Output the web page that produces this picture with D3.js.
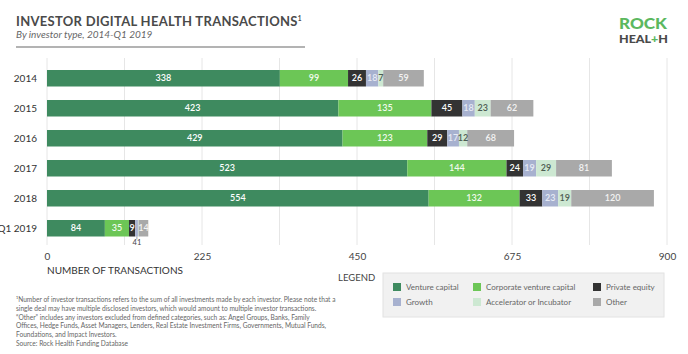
<!DOCTYPE html>
<html>
<head>
<meta charset="utf-8">
<script src="https://cdn.jsdelivr.net/npm/d3@7"></script>
<style>
  body { margin: 0; background: #fff; }
  text { font-family: Lato, "Open Sans", sans-serif; }
</style>
</head>
<body>
<div id="chart"></div>
<script>
// ---------------------------------------------------------------
//   data
// ---------------------------------------------------------------
const years = ["2014", "2015", "2016", "2017", "2018", "Q1 2019"];
const investorTypes = ["Venture capital", "Corporate venture capital", "Private equity",
                       "Growth", "Accelerator or Incubator", "Other"];
const ventureCapital   = [338, 423, 429, 523, 554, 84];
const corporateVC      = [99, 135, 123, 144, 132, 35];
const privateEquity    = [26, 45, 29, 24, 33, 9];
const growth           = [18, 18, 17, 19, 23, 4];
const accelerator      = [7, 23, 12, 29, 19, 1];
const other            = [59, 62, 68, 81, 120, 14];
const xTicks = [0, 225, 450, 675, 900];

const footnote = [
  "\u00B9Number of investor transactions refers to the sum of all investments made by each investor. Please note that a",
  "single deal may have multiple disclosed investors, which would amount to multiple investor transactions.",
  "\u201COther\u201D includes any investors excluded from defined categories, such as: Angel Groups, Banks, Family",
  "Offices, Hedge Funds, Asset Managers, Lenders, Real Estate Investment Firms, Governments, Mutual Funds,",
  "Foundations, and Impact Investors.",
  "Source: Rock Health Funding Database"
];

// ---------------------------------------------------------------
//   sizes / styles
// ---------------------------------------------------------------
const WIDTH = 688, HEIGHT = 354;
const X0 = 47, X1 = 667;
const Y0 = 63.25, Y1 = 243.25;
const COLORS = ["#3e8a5f", "#6cc656", "#333333", "#a7b1cf", "#cde8d2", "#a9a9a9"];
const LABEL_COLORS = ["#ffffff", "#f2fbef", "#ffffff", "#e6eaf5", "#4d5d52", "#f3f3f3"];

const series = [ventureCapital, corporateVC, privateEquity, growth, accelerator, other];
const table = years.map((y, i) => {
  const row = { year: y };
  investorTypes.forEach((t, k) => row[t] = series[k][i]);
  return row;
});

const svg = d3.select("#chart").append("svg")
  .attr("width", WIDTH)
  .attr("height", HEIGHT);

const x = d3.scaleLinear().domain([0, 900]).range([X0, X1]);
const y = d3.scaleBand().domain(years).range([Y0, Y1])
  .paddingInner(0.45).paddingOuter(0.225);

// title block
svg.append("text")
  .attr("x", 16).attr("y", 26)
  .attr("fill", "#4a4a4a")
  .style("font-size", "13px").style("font-weight", 700)
  .style("letter-spacing", "0.3px")
  .text("INVESTOR DIGITAL HEALTH TRANSACTIONS")
  .append("tspan")
  .attr("dy", -5).style("font-size", "6.5px")
  .text("1");

svg.append("text")
  .attr("x", 16).attr("y", 38)
  .attr("fill", "#666")
  .style("font-size", "10px").style("font-style", "italic")
  .text("By investor type, 2014-Q1 2019");

svg.append("line")
  .attr("x1", 16).attr("x2", 305)
  .attr("y1", 47).attr("y2", 47)
  .attr("stroke", "#9a9a9a").attr("stroke-width", 1.5);

// logo
svg.append("text")
  .attr("x", 619).attr("y", 29)
  .attr("fill", "#5cb860")
  .attr("textLength", 48).attr("lengthAdjust", "spacingAndGlyphs")
  .style("font-size", "15px").style("font-weight", 900)
  .text("ROCK");

const health = svg.append("text")
  .attr("x", 619).attr("y", 43)
  .attr("fill", "#4a4a4a")
  .attr("textLength", 49).attr("lengthAdjust", "spacingAndGlyphs")
  .style("font-size", "12px").style("font-weight", 900);
health.append("tspan").text("HEAL");
health.append("tspan").attr("fill", "#5cb860").text("+");
health.append("tspan").text("H");

// grid lines, every half tick
svg.append("g")
  .attr("id", "grid")
  .selectAll("line")
  .data(d3.range(0, 901, 112.5))
  .join("line")
  .attr("x1", d => x(d)).attr("x2", d => x(d))
  .attr("y1", 58).attr("y2", 245)
  .attr("stroke", "#e6e6e6")
  .attr("stroke-width", 1);

// x axis labels
const xAxis = svg.append("g")
  .attr("transform", "translate(0,246)")
  .call(d3.axisBottom(x).tickValues(xTicks).tickSize(0).tickPadding(7));
xAxis.select(".domain").remove();
xAxis.selectAll("text")
  .style("font-family", "Lato, sans-serif")
  .style("font-size", "10px")
  .attr("fill", "#444");

svg.append("text")
  .attr("x", X0).attr("y", 274)
  .attr("fill", "#333")
  .style("font-size", "10px")
  .text("NUMBER OF TRANSACTIONS");

// year labels
svg.append("g")
  .selectAll("text")
  .data(years)
  .join("text")
  .attr("x", 37)
  .attr("y", d => y(d) + y.bandwidth() / 2 + 3.5)
  .attr("text-anchor", "end")
  .attr("fill", "#333")
  .style("font-size", "10px")
  .text(d => d);

// stacked bars
const stacked = d3.stack().keys(investorTypes)(table);

const layers = svg.append("g")
  .attr("id", "bars")
  .selectAll("g")
  .data(stacked)
  .join("g")
  .attr("fill", (d, i) => COLORS[i]);

layers.selectAll("rect")
  .data(d => d)
  .join("rect")
  .attr("x", d => x(d[0]))
  .attr("y", d => y(d.data.year))
  .attr("width", d => x(d[1]) - x(d[0]))
  .attr("height", y.bandwidth());

// labels inside the segments (the two tiny Q1 2019 pieces get one label below)
stacked.forEach((layer, k) => {
  svg.append("g")
    .selectAll("text")
    .data(layer.filter(d => d[1] - d[0] >= 5))
    .join("text")
    .attr("x", d => (x(d[0]) + x(d[1])) / 2)
    .attr("y", d => y(d.data.year) + y.bandwidth() / 2 + 3.2)
    .attr("text-anchor", "middle")
    .attr("fill", LABEL_COLORS[k])
    .style("font-size", "9px")
    .style("font-weight", 600)
    .text(d => d[1] - d[0]);
});

const q1 = years.length - 1;
const smallStart = stacked[3][q1][0], smallEnd = stacked[4][q1][1];
const smallMid = x((smallStart + smallEnd) / 2);
svg.append("line")
  .attr("x1", smallMid).attr("x2", smallMid)
  .attr("y1", y(years[q1]) + y.bandwidth()).attr("y2", y(years[q1]) + y.bandwidth() + 3)
  .attr("stroke", "#777").attr("stroke-width", 0.7);
svg.append("text")
  .attr("x", smallMid)
  .attr("y", 245)
  .attr("text-anchor", "middle")
  .attr("fill", "#444")
  .style("font-size", "7.5px")
  .text(String(growth[q1]) + String(accelerator[q1]));

// legend
svg.append("text")
  .attr("x", 338).attr("y", 281)
  .attr("fill", "#444")
  .style("font-size", "9.5px")
  .text("LEGEND");

svg.append("rect")
  .attr("x", 383).attr("y", 273)
  .attr("width", 281).attr("height", 44)
  .attr("fill", "#f1f1f1")
  .attr("stroke", "#e2e2e2");

const legendCols = [393, 473, 593];
const legendRows = [287, 302];
const legend = svg.append("g")
  .selectAll("g")
  .data(investorTypes)
  .join("g")
  .attr("transform", (d, i) => `translate(${legendCols[i % 3]},${legendRows[Math.floor(i / 3)]})`);

legend.append("rect")
  .attr("x", 0).attr("y", -4)
  .attr("width", 8).attr("height", 8)
  .attr("fill", (d, i) => COLORS[i]);

legend.append("text")
  .attr("x", 13).attr("y", 3)
  .attr("fill", "#666")
  .style("font-size", "8px")
  .text(d => d);

// footnote
svg.append("g")
  .selectAll("text")
  .data(footnote)
  .join("text")
  .attr("x", 16)
  .attr("y", (d, i) => 302 + i * 8.8)
  .attr("fill", "#666")
  .style("font-size", "6.6px")
  .text(d => d);
</script>
</body>
</html>
